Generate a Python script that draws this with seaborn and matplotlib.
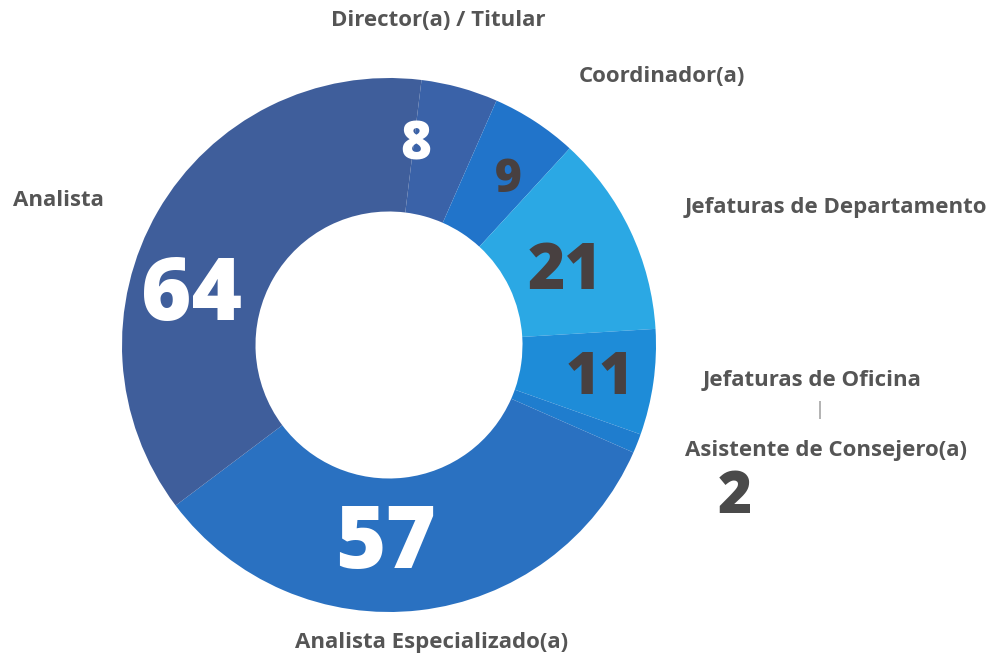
import numpy as np
import matplotlib
matplotlib.use("Agg")
import matplotlib.pyplot as plt
import seaborn as sns

# datos (en sentido horario desde arriba)
puestos = ["Director(a) / Titular", "Coordinador(a)", "Jefaturas de Departamento",
           "Jefaturas de Oficina", "Asistente de Consejero(a)",
           "Analista Especializado(a)", "Analista"]
cantidades = [8, 9, 21, 11, 2, 57, 64]
colores = ["#3A62A8", "#2174CA", "#2BA8E4", "#1E8CD8", "#1F7DCE", "#2A71C1", "#3F5E9B"]
color_num = ["white", "#484040", "#484040", "#484040", "#4a4a4a", "white", "white"]

sns.set_theme(style="white")
plt.rcParams["font.family"] = ["Open Sans", "DejaVu Sans"]

fig = plt.figure(figsize=(9.95, 6.6), dpi=100)
ax = fig.add_axes([0, 0, 1, 1])

# centro del anillo en pixeles y radio
CX, CY, R = 389, 345, 267


def px(x, y):
    return (x - CX) / R, (CY - y) / R


wedges, _ = ax.pie(cantidades, colors=sns.color_palette(colores), startangle=83,
                   counterclock=False, radius=1.0,
                   wedgeprops=dict(width=0.5, edgecolor="none"))

ax.set_xlim(-CX / R, (995 - CX) / R)
ax.set_ylim(-(660 - CY) / R, CY / R)
ax.set_aspect("equal")
ax.axis("off")

gris = "#555555"

# etiquetas de categoria
etiquetas_pos = {
    "Director(a) / Titular": (438, 20),
    "Coordinador(a)": (662, 77),
    "Jefaturas de Departamento": (836, 207),
    "Analista": (58, 200),
    "Jefaturas de Oficina": (812, 381),
    "Asistente de Consejero(a)": (826, 451),
    "Analista Especializado(a)": (432, 643),
}
for nombre, (x, y) in etiquetas_pos.items():
    ax.text(*px(x, y), nombre, ha="center", va="center", fontsize=16,
            fontweight="bold", color=gris)
ax.text(*px(820, 410), "|", ha="center", va="center", fontsize=13, color="#888888")

# valores
num_pos = [((416, 146), 38), ((508, 180), 33), ((565, 272), 46), ((600, 379), 42),
           ((735, 498), 42), ((386, 546), 62), ((192, 298), 62)]
for v, c, ((x, y), fs) in zip(cantidades, color_num, num_pos):
    ax.text(*px(x, y), str(v), ha="center", va="center", fontsize=fs,
            fontweight="heavy", color=c)

fig.savefig("out.png", dpi=100, facecolor="white")
